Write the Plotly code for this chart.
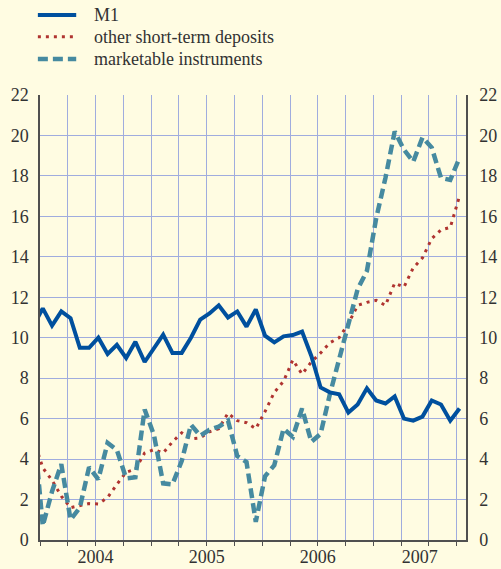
import plotly.graph_objects as go

# monthly growth rates, Dec 2003 .. Oct 2007 (first value lies left of the axis)
m1 = [10.6, 11.45, 10.6, 11.3, 10.97, 9.5, 9.5, 10.0, 9.2, 9.65, 9.0, 9.8, 8.8,
      9.5, 10.15, 9.25, 9.25, 10.0, 10.9, 11.2, 11.6, 11.0, 11.3, 10.55, 11.4,
      10.1, 9.77, 10.07, 10.13, 10.3, 9.1, 7.54, 7.3, 7.2, 6.3, 6.7, 7.5, 6.9,
      6.75, 7.1, 6.0, 5.9, 6.1, 6.9, 6.7, 5.9, 6.5]
other_st = [5.0, 3.57, 2.95, 2.17, 1.6, 1.7, 1.8, 1.78, 2.1, 2.75, 3.35, 3.5, 4.3,
            4.47, 4.3, 4.85, 5.3, 5.0, 5.05, 5.35, 5.5, 6.27, 5.9, 5.8, 5.5,
            6.35, 7.3, 7.85, 8.9, 8.2, 8.8, 9.25, 9.75, 10.0, 10.7, 11.6, 11.75,
            11.85, 11.6, 12.7, 12.5, 13.45, 13.95, 14.9, 15.33, 15.45, 17.0]
marketable = [5.7, 0.7, 2.4, 3.75, 1.0, 1.6, 3.6, 3.0, 4.8, 4.45, 3.05, 3.1, 6.45,
              5.2, 2.8, 2.75, 3.9, 5.7, 5.15, 5.45, 5.6, 5.9, 4.15, 3.85, 0.9,
              3.15, 3.7, 5.5, 5.1, 6.5, 4.85, 5.25, 7.2, 8.9, 10.7, 12.4, 13.3,
              15.9, 17.9, 20.2, 19.3, 18.7, 19.9, 19.4, 17.9, 17.8, 18.9]
years = ["2004", "2005", "2006", "2007"]

# x in months since Jan 2004, points sit a little after the month start
x = [i - 1 + 0.3 for i in range(len(m1))]

bg = "rgb(255,252,226)"
grid = "rgb(160,172,222)"
axis = "rgb(80,80,80)"
font = "Liberation Serif, Times New Roman, serif"

series = [
    ("M1", m1, dict(color="rgb(0,80,158)", width=4)),
    ("other short-term deposits", other_st,
     dict(color="rgb(176,52,48)", width=3, dash="3px,5px")),
    ("marketable instruments", marketable,
     dict(color="rgb(70,138,160)", width=4.5, dash="10px,5px")),
]

fig = go.Figure()

# draw order: dotted, dashed, then M1 on top (on the mirrored right axis)
for name, vals, line in [series[1], series[2], series[0]]:
    fig.add_trace(go.Scatter(
        x=x, y=vals, name=name, mode="lines", line=line,
        yaxis="y2" if name == "M1" else "y",
        hoverinfo="skip",
    ))

# hand-made legend above the plot (paper coordinates)
legend_rows = [1.18, 1.131, 1.081]
for (name, vals, line), ly in zip(series, legend_rows):
    fig.add_shape(
        type="line", xref="paper", yref="paper",
        x0=-0.005, x1=0.085, y0=ly, y1=ly,
        line=line,
    )
    fig.add_annotation(
        xref="paper", yref="paper", x=0.122, y=ly,
        xanchor="left", yanchor="middle", showarrow=False,
        text=name, font=dict(size=18, family=font, color="rgb(50,50,50)"),
    )

fig.update_layout(
    width=501,
    height=569,
    paper_bgcolor=bg,
    plot_bgcolor=bg,
    font=dict(family=font, size=18, color="rgb(50,50,50)"),
    margin=dict(l=40, r=35, t=95, b=29, autoexpand=False),
    showlegend=False,
    xaxis=dict(
        range=[0, 46],
        tickmode="array",
        tickvals=[6, 18, 30, 41],
        ticktext=years,
        ticks="",
        showgrid=False,
        zeroline=False,
        showline=True,
        linecolor=axis,
        linewidth=1.5,
        minor=dict(
            tickmode="array",
            tickvals=list(range(0, 46, 3)),
            showgrid=True,
            gridcolor=grid,
            gridwidth=1,
            ticks="outside",
            ticklen=4,
            tickcolor=axis,
        ),
    ),
    yaxis=dict(
        range=[0, 22],
        dtick=2,
        ticks="",
        showgrid=True,
        gridcolor=grid,
        gridwidth=1,
        zeroline=False,
        showline=True,
        linecolor=axis,
        linewidth=1.5,
        ticklabelstandoff=6,
    ),
    yaxis2=dict(
        range=[0, 22],
        dtick=2,
        overlaying="y",
        side="right",
        matches="y",
        ticks="",
        showgrid=False,
        zeroline=False,
        showline=True,
        linecolor=axis,
        linewidth=1.5,
        ticklabelstandoff=8,
    ),
)

fig.write_html("out.html", config={"displayModeBar": False},
               post_script="document.body.style.margin = '0';")
